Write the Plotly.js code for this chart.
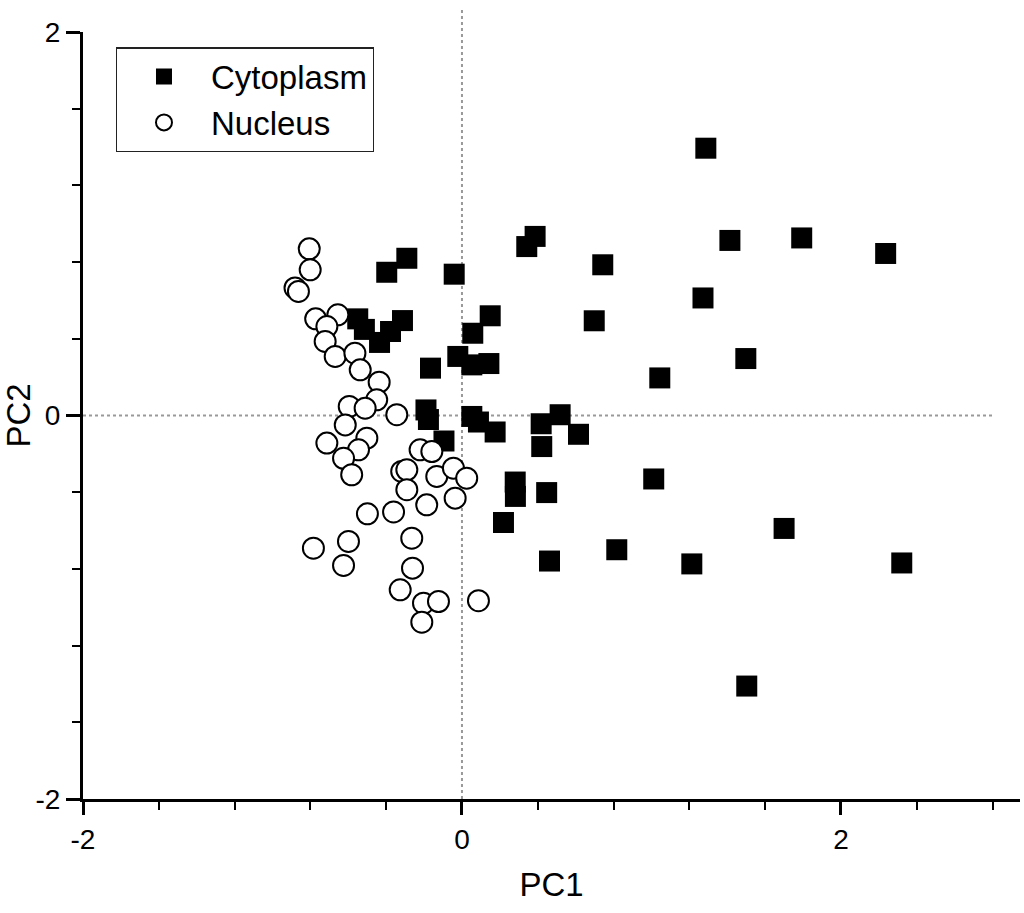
<!DOCTYPE html>
<html>
<head>
<meta charset="utf-8">
<script src="https://cdn.plot.ly/plotly-3.0.1.min.js"></script>
<style>
html,body{margin:0;padding:0;background:#fff;}
#chart{width:1024px;height:913px;}
</style>
</head>
<body>
<div id="chart"></div>
<script>
// Cytoplasm (filled squares)
const cytoPC1 = [1.287,0.386,0.342,1.414,1.793,2.236,0.743,-0.041,-0.291,-0.397,
  1.272,0.149,0.698,0.057,-0.022,0.052,0.142,1.498,1.044,-0.166,
  -0.550,-0.515,-0.435,-0.377,-0.314,-0.190,-0.177,0.052,0.087,0.175,
  -0.095,0.418,0.518,0.615,0.421,1.012,0.281,0.282,0.447,0.219,
  1.700,0.462,0.817,1.213,2.321,1.503];
const cytoPC2 = [1.394,0.934,0.881,0.913,0.926,0.845,0.786,0.737,0.820,0.747,
  0.613,0.520,0.494,0.429,0.308,0.264,0.271,0.297,0.196,0.247,
  0.504,0.449,0.381,0.438,0.495,0.029,-0.021,-0.005,-0.034,-0.086,
  -0.133,-0.043,0.004,-0.098,-0.162,-0.331,-0.347,-0.422,-0.402,-0.558,
  -0.589,-0.759,-0.700,-0.774,-0.769,-1.411];

// Nucleus (open circles)
const nucPC1 = [-0.806,-0.801,-0.881,-0.863,-0.772,-0.655,-0.713,-0.722,-0.669,-0.565,
  -0.537,-0.437,-0.450,-0.595,-0.511,-0.344,-0.616,-0.502,-0.713,-0.546,
  -0.625,-0.582,-0.221,-0.159,-0.318,-0.291,-0.133,-0.045,0.025,-0.291,
  -0.036,-0.186,-0.361,-0.499,-0.265,-0.784,-0.599,-0.625,-0.261,-0.326,
  -0.203,-0.124,-0.212,0.087];
const nucPC2 = [0.869,0.760,0.665,0.647,0.504,0.525,0.464,0.386,0.308,0.325,
  0.238,0.174,0.082,0.047,0.038,0.004,-0.049,-0.118,-0.144,-0.179,
  -0.223,-0.309,-0.179,-0.188,-0.292,-0.283,-0.318,-0.275,-0.327,-0.387,
  -0.431,-0.466,-0.503,-0.513,-0.640,-0.692,-0.657,-0.782,-0.796,-0.909,
  -0.979,-0.970,-1.078,-0.966];

const seriesNames = ["Cytoplasm", "Nucleus"];
const xTickVals = [-2, 0, 2];
const yTickVals = [-2, 0, 2];

const FONT = "Arial, 'Liberation Sans', Helvetica, sans-serif";

const traces = [
  {
    type: "scatter", mode: "markers", name: seriesNames[0],
    x: cytoPC1, y: cytoPC2, legendgroup: "a",
    marker: {symbol: "square", size: 21, color: "#000", line: {width: 0}},
    hoverinfo: "x+y"
  },
  {
    type: "scatter", mode: "markers", name: seriesNames[1],
    x: nucPC1, y: nucPC2, legendgroup: "b",
    marker: {symbol: "circle", size: 21, color: "#fff", line: {width: 2, color: "#000"}},
    hoverinfo: "x+y"
  }
];

const layout = {
  width: 1024, height: 913,
  margin: {l: 83, r: 4, t: 32, b: 114},
  paper_bgcolor: "#fff", plot_bgcolor: "#fff",
  font: {family: FONT, color: "#000", size: 28},
  showlegend: true,
  legend: {
    x: 0.035, y: 0.98, xanchor: "left", yanchor: "top",
    bordercolor: "#222", borderwidth: 1.2, bgcolor: "#fff",
    font: {family: FONT, size: 33, color: "#000"},
    itemwidth: 84, tracegroupgap: 0, traceorder: "grouped"
  },
  xaxis: {
    range: [-2, 2.945], autorange: false,
    tickmode: "array", tickvals: xTickVals, ticktext: xTickVals.map(String),
    ticks: "outside", ticklen: 13, tickwidth: 3, tickcolor: "#000",
    minor: {dtick: 0.4, tick0: -2, ticks: "outside", ticklen: 8, tickwidth: 2, tickcolor: "#000", showgrid: false},
    showline: true, linewidth: 3, linecolor: "#000",
    showgrid: false, zeroline: false, automargin: false,
    tickfont: {family: FONT, size: 28},
    title: {text: "PC1", font: {family: FONT, size: 33}, standoff: 20}
  },
  yaxis: {
    range: [-2, 2], autorange: false,
    tickmode: "array", tickvals: yTickVals, ticktext: yTickVals.map(String),
    ticks: "outside", ticklen: 14, tickwidth: 3, tickcolor: "#000",
    minor: {dtick: 0.4, tick0: -2, ticks: "outside", ticklen: 8, tickwidth: 2, tickcolor: "#000", showgrid: false},
    showline: true, linewidth: 3, linecolor: "#000",
    showgrid: false, zeroline: false, automargin: false,
    tickfont: {family: FONT, size: 28},
    title: {text: "PC2", font: {family: FONT, size: 33}, standoff: 10}
  },
  shapes: [
    {type: "line", layer: "below", xref: "x", yref: "paper", x0: 0, x1: 0, y0: 0, y1: 1.031,
     line: {color: "#999", width: 2, dash: "dot"}},
    {type: "line", layer: "below", xref: "x", yref: "y", x0: -2, x1: 2.8, y0: 0, y1: 0,
     line: {color: "#999", width: 2, dash: "dot"}}
  ]
};

Plotly.newPlot("chart", traces, layout, {displayModeBar: false, staticPlot: true});
</script>
</body>
</html>
